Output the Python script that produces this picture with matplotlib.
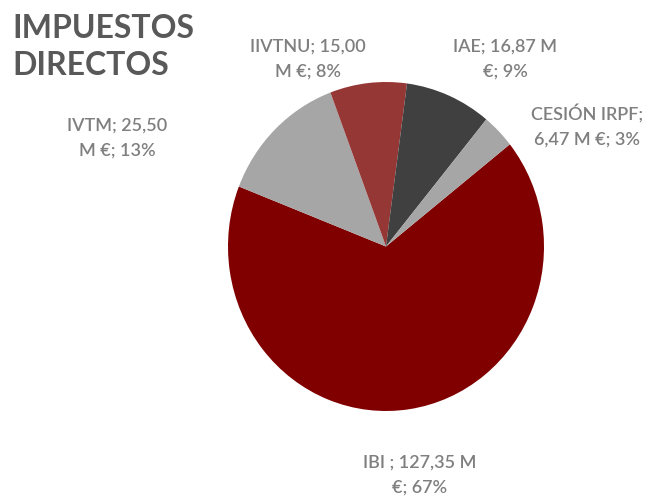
import matplotlib.pyplot as plt

# ── Data ───────────────────────────────────────────────────────────────────────
categories = ["IBI ", "IVTM", "IIVTNU", "IAE", "CESIÓN IRPF"]
values     = [127.35, 25.50, 15.00, 16.87, 6.47]
colors     = ["#800000", "#A6A6A6", "#953735", "#404040", "#A6A6A6"]
first_line_words = [4, 2, 2, 3, 2]          # where each label wraps

title_lines = ["IMPUESTOS", "DIRECTOS"]

# ── Layout (pixels) ────────────────────────────────────────────────────────────
W, H = 649, 504
PIE_BOX = (228, 82, 316, 329)               # left, top, width, height
LABEL_POS = [(420, 468), (117, 131), (308, 52), (505, 52), (587, 120)]  # centre x, first baseline
LABEL_GAP = 25
TITLE_BASELINES = [38, 75]
START_ANGLE = 38.4

TEXT_GREY  = "#7F7F7F"
TITLE_GREY = "#595959"

plt.rcParams["font.family"] = ["Lato", "DejaVu Sans"]


def make_label(cat, val, total, n_first):
    pct = val / total * 100
    text = f"{cat}; {val:.2f}".replace(".", ",") + f" M €; {pct:.0f}%"
    words = text.split(" ")
    return [" ".join(words[:n_first]), " ".join(words[n_first:])]


def main():
    fig = plt.figure(figsize=(W / 100, H / 100), dpi=100)

    left, top, w, h = PIE_BOX
    ax = fig.add_axes([left / W, (H - top - h) / H, w / W, h / H])
    ax.pie(values, colors=colors, startangle=START_ANGLE, counterclock=False,
           wedgeprops=dict(linewidth=0))
    ax.set_xlim(-1, 1)
    ax.set_ylim(-1, 1)
    ax.set_aspect("auto")
    ax.axis("off")

    total = sum(values)
    for cat, val, n, (x, y) in zip(categories, values, first_line_words, LABEL_POS):
        for i, line in enumerate(make_label(cat, val, total, n)):
            fig.text(x / W, 1 - (y + i * LABEL_GAP) / H, line,
                     ha="center", va="baseline", fontsize=13,
                     fontweight="semibold", color=TEXT_GREY)

    for line, base in zip(title_lines, TITLE_BASELINES):
        fig.text(12 / W, 1 - base / H, line, ha="left", va="baseline",
                 fontsize=23, fontweight="bold", color=TITLE_GREY)

    fig.savefig("out.png", dpi=100)


if __name__ == "__main__":
    main()
